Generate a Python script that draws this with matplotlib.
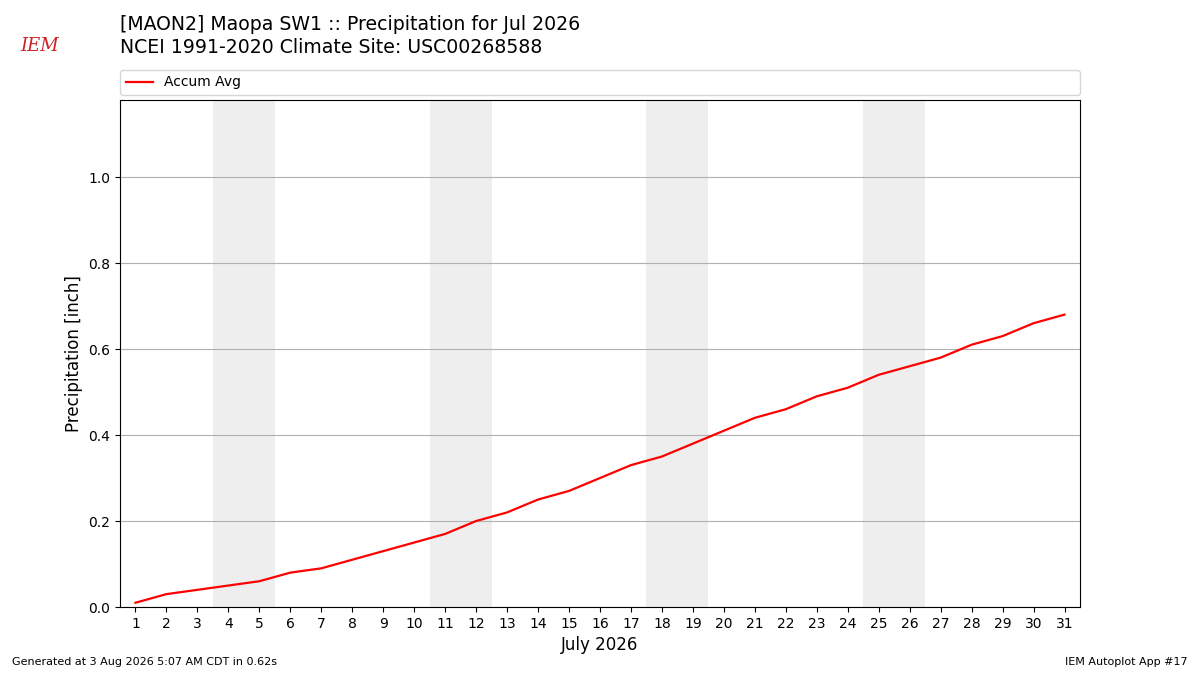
import matplotlib
matplotlib.use("Agg")
import matplotlib.pyplot as plt

# Daily accumulated climatology (inch), July
days = list(range(1, 32))
accum = [0.01, 0.03, 0.04, 0.05, 0.06, 0.08, 0.09, 0.11, 0.13, 0.15,
         0.17, 0.20, 0.22, 0.25, 0.27, 0.30, 0.33, 0.35, 0.38, 0.41,
         0.44, 0.46, 0.49, 0.51, 0.54, 0.56, 0.58, 0.61, 0.63, 0.66, 0.68]
weekends = [(4, 5), (11, 12), (18, 19), (25, 26)]

fig = plt.figure(figsize=(12, 6.75), dpi=100)
ax = fig.add_axes([0.1, 0.1007, 0.8, 0.7511])

for a, b in weekends:
    ax.axvspan(a - 0.5, b + 0.5, color="#eeeeee", zorder=0, lw=0)

ax.plot(days, accum, color="red", lw=1.6, label="Accum Avg", zorder=3)

ax.set_xlim(0.5, 31.5)
ax.set_ylim(0, 1.179)
ax.set_xticks(days)
ax.set_yticks([0, 0.2, 0.4, 0.6, 0.8, 1.0])
ax.grid(axis="y", color="#b0b0b0", lw=0.8)
ax.set_axisbelow(True)
ax.set_xlabel("July 2026", fontsize=12)
ax.set_ylabel("Precipitation [inch]", fontsize=12)

ax.legend(loc="lower left", bbox_to_anchor=(0, 1.01, 1, 0.05), mode="expand",
          ncol=1, fontsize=10, borderaxespad=0)

fig.text(0.1, 0.964, "[MAON2] Maopa SW1 :: Precipitation for Jul 2026",
         fontsize=13.6, va="center")
fig.text(0.1, 0.93, "NCEI 1991-2020 Climate Site: USC00268588",
         fontsize=13.6, va="center")
fig.text(0.017, 0.932, "IEM", color="#cc2222", fontsize=13,
         family="DejaVu Serif", style="italic", va="center")

fig.text(0.01, 0.015, "Generated at 3 Aug 2026 5:07 AM CDT in 0.62s", fontsize=8)
fig.text(0.99, 0.015, "IEM Autoplot App #17", fontsize=8, ha="right")

fig.savefig("out.png", dpi=100)
